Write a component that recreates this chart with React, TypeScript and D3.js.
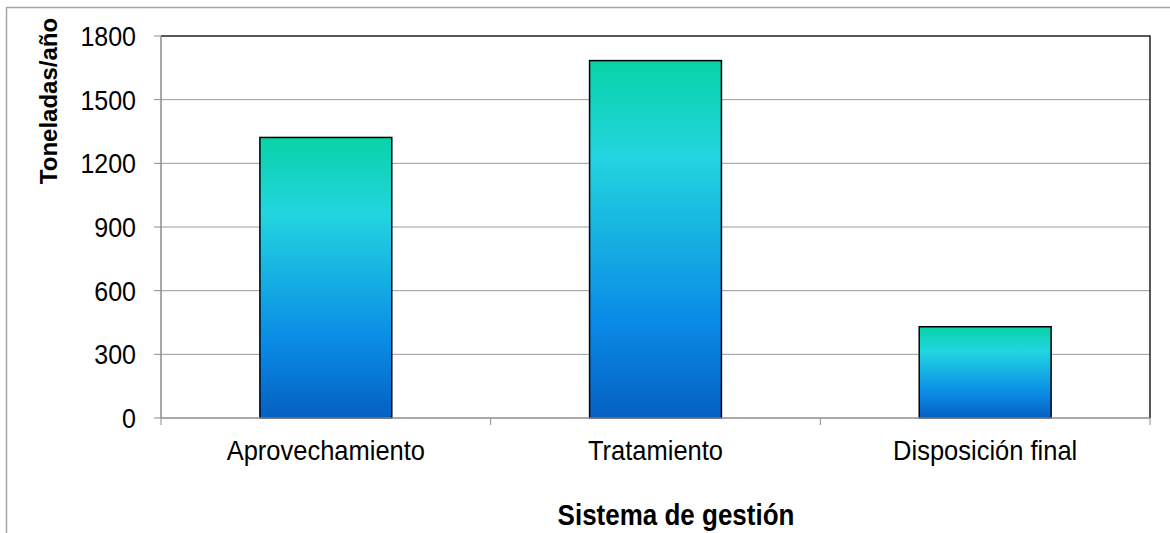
import React from "react";
import * as d3 from "d3";

const categories = ["Aprovechamiento", "Tratamiento", "Disposición final"];
const values = [1322, 1684, 430];
const yTicks = [0, 300, 600, 900, 1200, 1500, 1800];
const yTitle = "Toneladas/año";
const xTitle = "Sistema de gestión";

export default function App() {
  const W = 1170, H = 533;
  const left = 161, right = 1150, top = 36, bottom = 418;
  const sy = 1.11;
  const x = d3.scaleBand<string>().domain(categories).range([left, right]).paddingInner(0.6).paddingOuter(0.3);
  const xb = d3.scaleBand<string>().domain(categories).range([left, right]);
  const y = d3.scaleLinear().domain([0, 1800]).range([bottom, top]);
  const font = "'Liberation Sans', Arial, sans-serif";
  return (
    <svg width={W} height={H} style={{ position: "absolute", left: 0, top: 0, display: "block" }} fontFamily={font}>
      <defs>
        <linearGradient id="barGrad" x1="0" y1="0" x2="0" y2="1">
          <stop offset="0" stopColor="#08D3A8" />
          <stop offset="0.27" stopColor="#22D5DF" />
          <stop offset="0.72" stopColor="#0A8CE6" />
          <stop offset="1" stopColor="#0560C2" />
        </linearGradient>
      </defs>
      <rect x={0} y={0} width={W} height={H} fill="#fff" />
      <path d={`M6.5,${H}V7.5H${W}`} fill="none" stroke="#a6a6a6" strokeWidth={1.5} />
      {yTicks.map((t) => (
        <g key={t}>
          {t > 0 && t < 1800 && (
            <line x1={left} x2={right} y1={y(t)} y2={y(t)} stroke="#9a9a9a" strokeWidth={1} />
          )}
          <line x1={154} x2={left} y1={y(t)} y2={y(t)} stroke="#8c8c8c" strokeWidth={1} />
          <text transform={`translate(136,${y(t) + 10}) scale(1,${sy})`} textAnchor="end" fontSize={25} fill="#000">{t}</text>
        </g>
      ))}
      <path d={`M${left},${top}H${right}V${bottom}`} fill="none" stroke="#222" strokeWidth={1.5} />
      <line x1={left} x2={left} y1={top} y2={bottom} stroke="#8c8c8c" strokeWidth={1.5} />
      {values.map((v, i) => (
        <rect key={i} x={x(categories[i])!} y={y(v)} width={x.bandwidth()} height={bottom - y(v)}
          fill="url(#barGrad)" stroke="#000" strokeWidth={1.5} />
      ))}
      <line x1={left} x2={right} y1={bottom} y2={bottom} stroke="#8c8c8c" strokeWidth={1.5} />
      {[...categories.map((c) => xb(c)!), right].map((px, i) => (
        <line key={i} x1={px} x2={px} y1={bottom} y2={bottom + 7} stroke="#8c8c8c" strokeWidth={1} />
      ))}
      {categories.map((c) => (
        <text key={c} transform={`translate(${xb(c)! + xb.bandwidth() / 2},460) scale(1,${sy})`} textAnchor="middle" fontSize={25.5} fill="#000">{c}</text>
      ))}
      <text transform={`translate(676,525) scale(1,${sy})`} textAnchor="middle" fontSize={26} fontWeight="bold" fill="#000">{xTitle}</text>
      <text transform="translate(57,101) rotate(-90)" textAnchor="middle" fontSize={24} fontWeight="bold" fill="#000">{yTitle}</text>
    </svg>
  );
}
